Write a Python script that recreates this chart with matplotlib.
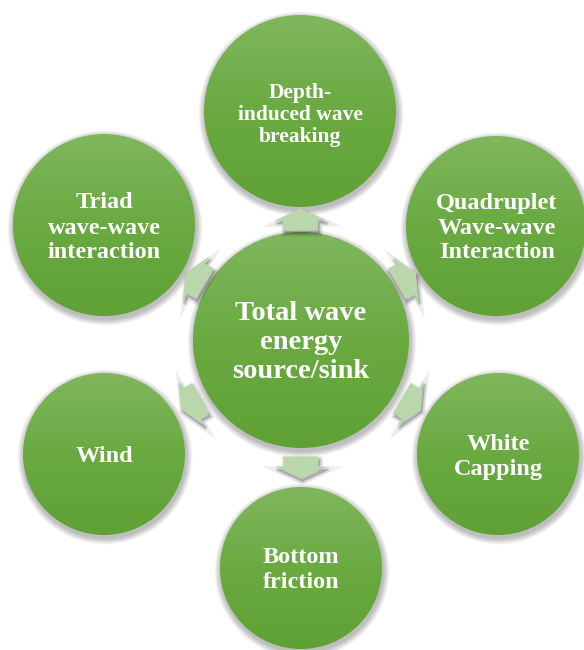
import numpy as np
import matplotlib
matplotlib.use("Agg")
import matplotlib.pyplot as plt
from matplotlib.patches import Circle, Polygon
from matplotlib.colors import LinearSegmentedColormap

# ---- content ----
center_label = "Total wave\nenergy\nsource/sink"
outer_labels = [
    "Depth-\ninduced wave\nbreaking",
    "Quadruplet\nWave-wave\nInteraction",
    "White\nCapping",
    "Bottom\nfriction",
    "Wind",
    "Triad\nwave-wave\ninteraction",
]

# ---- layout (pixel space) ----
center_xy = (301, 340)
center_r = 108
outer_xy = [(300, 111), (496, 226), (498, 454), (301, 568), (104, 454), (104, 225)]
outer_r = [96, 90, 81, 81, 81, 91]
outer_fs = [15.5, 17.5, 17.5, 17.5, 17.5, 17.5]
outer_ls = [1.12, 1.25, 1.25, 1.25, 1.25, 1.25]
outer_text_xy = [(300, 115), (497, 228), (498, 457), (301, 570), (104, 456), (104, 228)]

W, H = 584, 650
fig = plt.figure(figsize=(W / 100, H / 100), dpi=100)
ax = fig.add_axes([0, 0, 1, 1])
ax.set_xlim(0, W)
ax.set_ylim(H, 0)
ax.axis("off")

cmap = LinearSegmentedColormap.from_list("g", ["#80b75e", "#6aaa41", "#60a136"])
grad = np.linspace(0, 1, 256).reshape(-1, 1)


def draw_circle(xy, r):
    cx, cy = xy
    # soft shadow
    for k in range(7, 0, -1):
        ax.add_patch(Circle((cx + 1, cy + 3), r + k * 0.9, color="#000000",
                            alpha=0.04, lw=0, zorder=1))
    c = Circle((cx, cy), r, facecolor="none", edgecolor="none", zorder=2)
    ax.add_patch(c)
    im = ax.imshow(grad, cmap=cmap, extent=[cx - r, cx + r, cy + r, cy - r],
                   origin="upper", aspect="auto", zorder=2, interpolation="bilinear")
    im.set_clip_path(c)


def draw_arrow(p_from, r_from, p_to, r_to):
    p0 = np.array(p_from, float)
    p1 = np.array(p_to, float)
    d = p1 - p0
    dist = np.hypot(*d)
    u = d / dist
    v = np.array([-u[1], u[0]])
    gap_mid = r_from + (dist - r_from - r_to) / 2
    m = p0 + u * gap_mid
    L, bl, bw, hw = 22, 10, 17.5, 26
    s = m - u * L / 2
    pts = [s + bw * v, s + bl * u + bw * v, s + bl * u + hw * v, s + L * u,
           s + bl * u - hw * v, s + bl * u - bw * v, s - bw * v]
    pts = np.array(pts)
    for k in range(3, 0, -1):
        ax.add_patch(Polygon(pts + np.array([1.5, 3]), closed=True, facecolor="#000000",
                             edgecolor="#000000", lw=k * 1.5, alpha=0.07, zorder=3))
    ax.add_patch(Polygon(pts, closed=True, facecolor="#bad7ab", edgecolor="none",
                         zorder=4))


for xy, r in zip(outer_xy, outer_r):
    draw_circle(xy, r)
draw_circle(center_xy, center_r)

for xy, r in zip(outer_xy, outer_r):
    draw_arrow(center_xy, center_r, xy, r)

font = ["Liberation Serif", "DejaVu Serif"]
ax.text(center_xy[0], center_xy[1] + 2.5, center_label, ha="center", va="center",
        color="white", fontsize=20.5, fontweight="bold", family=font,
        linespacing=1.22, zorder=6)
for (tx, ty), lab, fs, ls in zip(outer_text_xy, outer_labels, outer_fs, outer_ls):
    ax.text(tx, ty, lab, ha="center", va="center", color="white", fontsize=fs,
            fontweight="bold", family=font, linespacing=ls, zorder=6)

ax.set_xlim(0, W)
ax.set_ylim(H, 0)
fig.savefig("out.png", dpi=100)
